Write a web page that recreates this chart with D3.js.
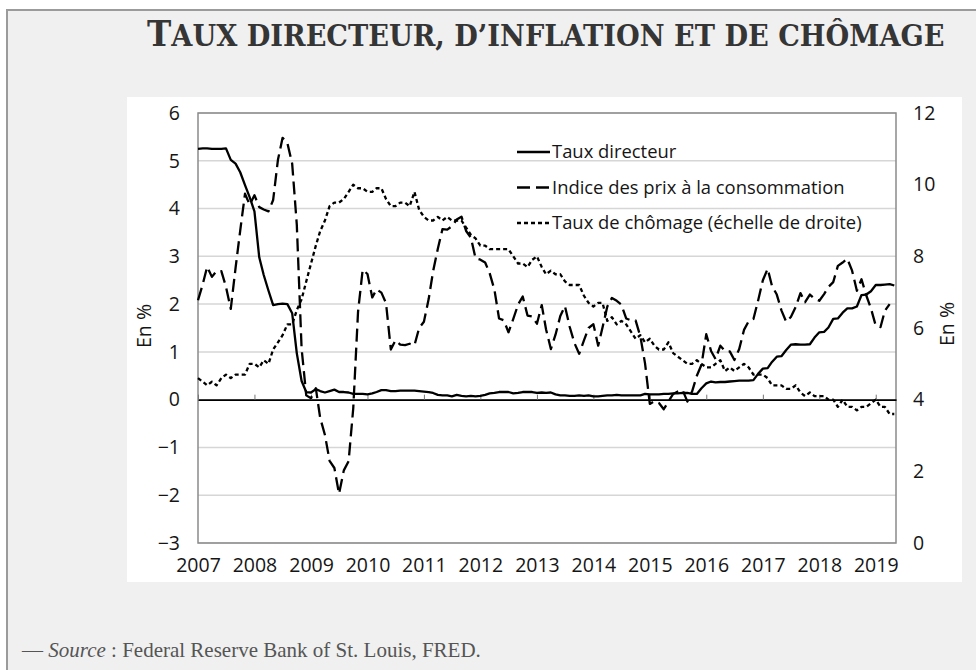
<!DOCTYPE html>
<html lang="fr">
<head>
<meta charset="utf-8">
<script src="https://cdn.jsdelivr.net/npm/d3@7/dist/d3.min.js"></script>
<style>
  html, body { margin: 0; padding: 0; background: #ffffff; }
  svg { display: block; }
  .tick-label { font-family: "Open Sans", "Noto Sans", sans-serif; font-size: 19.5px; fill: #151515; }
  .legend-text { font-family: "Open Sans", "Noto Sans", sans-serif; font-size: 18.4px; fill: #151515; }
</style>
</head>
<body>
<svg id="chart" width="976" height="670"></svg>
<script>
// Monthly series, January 2007 onwards (in %)
const startYear = 2007;

// Effective federal funds rate
const tauxDirecteur = [
  5.25, 5.26, 5.26, 5.25, 5.25, 5.25, 5.26, 5.02, 4.94, 4.76, 4.49, 4.24,
  3.94, 2.98, 2.61, 2.28, 1.98, 2.00, 2.01, 2.00, 1.81, 0.97, 0.39, 0.16,
  0.15, 0.22, 0.18, 0.15, 0.18, 0.21, 0.16, 0.16, 0.15, 0.12, 0.12, 0.12,
  0.11, 0.13, 0.16, 0.20, 0.20, 0.18, 0.18, 0.19, 0.19, 0.19, 0.19, 0.18,
  0.17, 0.16, 0.14, 0.10, 0.09, 0.09, 0.07, 0.10, 0.08, 0.07, 0.08, 0.07,
  0.08, 0.10, 0.13, 0.14, 0.16, 0.16, 0.16, 0.13, 0.14, 0.16, 0.16, 0.16,
  0.14, 0.15, 0.14, 0.15, 0.11, 0.09, 0.09, 0.08, 0.08, 0.09, 0.08, 0.09,
  0.07, 0.07, 0.08, 0.09, 0.09, 0.10, 0.09, 0.09, 0.09, 0.09, 0.09, 0.12,
  0.11, 0.11, 0.11, 0.12, 0.12, 0.13, 0.13, 0.14, 0.14, 0.12, 0.12, 0.24,
  0.34, 0.38, 0.36, 0.37, 0.37, 0.38, 0.39, 0.40, 0.40, 0.40, 0.41, 0.54,
  0.65, 0.66, 0.79, 0.90, 0.91, 1.04, 1.15, 1.16, 1.15, 1.15, 1.16, 1.30,
  1.41, 1.42, 1.51, 1.69, 1.70, 1.82, 1.91, 1.91, 1.95, 2.19, 2.20, 2.27,
  2.40, 2.40, 2.41, 2.42, 2.39
];

// Consumer price index, year-on-year change
const indicePrix = [
  2.08, 2.42, 2.78, 2.57, 2.69, 2.69, 2.36, 1.90, 2.76, 3.54, 4.31, 4.08,
  4.28, 4.03, 3.98, 3.94, 4.18, 5.02, 5.48, 5.37, 4.94, 3.66, 1.07, 0.09,
  0.03, 0.24, -0.38, -0.74, -1.28, -1.43, -1.97, -1.48, -1.29, -0.18, 1.84, 2.72,
  2.63, 2.14, 2.31, 2.24, 2.02, 1.05, 1.24, 1.15, 1.14, 1.17, 1.14, 1.50,
  1.63, 2.11, 2.68, 3.16, 3.57, 3.56, 3.63, 3.77, 3.83, 3.53, 3.39, 2.96,
  2.93, 2.87, 2.65, 2.30, 1.70, 1.66, 1.41, 1.69, 1.99, 2.16, 1.76, 1.74,
  1.59, 1.98, 1.47, 1.06, 1.36, 1.75, 1.96, 1.52, 1.18, 0.96, 1.24, 1.50,
  1.58, 1.13, 1.51, 1.95, 2.13, 2.07, 1.99, 1.70, 1.66, 1.66, 1.32, 0.76,
  -0.09, -0.03, -0.07, -0.20, -0.04, 0.12, 0.17, 0.20, -0.04, 0.17, 0.50, 0.73,
  1.37, 1.02, 0.85, 1.13, 1.02, 1.01, 0.83, 1.06, 1.46, 1.64, 1.69, 2.07,
  2.50, 2.74, 2.38, 2.20, 1.87, 1.63, 1.73, 1.94, 2.23, 2.04, 2.20, 2.11,
  2.07, 2.21, 2.36, 2.46, 2.80, 2.87, 2.95, 2.70, 2.28, 2.52, 2.18, 1.91,
  1.55, 1.52, 1.86, 2.00
];

// Unemployment rate (right-hand scale)
const tauxChomage = [
  4.6, 4.5, 4.4, 4.5, 4.4, 4.6, 4.7, 4.6, 4.7, 4.7, 4.7, 5.0,
  5.0, 4.9, 5.1, 5.0, 5.4, 5.6, 5.8, 6.1, 6.1, 6.5, 6.8, 7.3,
  7.8, 8.3, 8.7, 9.0, 9.4, 9.5, 9.5, 9.6, 9.8, 10.0, 9.9, 9.9,
  9.8, 9.8, 9.9, 9.9, 9.6, 9.4, 9.4, 9.5, 9.5, 9.4, 9.8, 9.3,
  9.1, 9.0, 9.0, 9.1, 9.0, 9.1, 9.0, 9.0, 9.0, 8.8, 8.6, 8.5,
  8.3, 8.3, 8.2, 8.2, 8.2, 8.2, 8.2, 8.0, 7.8, 7.8, 7.7, 7.9,
  8.0, 7.7, 7.5, 7.6, 7.5, 7.5, 7.3, 7.2, 7.2, 7.2, 6.9, 6.7,
  6.6, 6.7, 6.7, 6.2, 6.3, 6.1, 6.2, 6.1, 5.9, 5.7, 5.8, 5.6,
  5.7, 5.5, 5.4, 5.4, 5.6, 5.3, 5.2, 5.1, 5.0, 5.0, 5.1, 5.0,
  4.9, 4.9, 5.0, 5.1, 4.8, 4.9, 4.8, 4.9, 5.0, 4.9, 4.7, 4.7,
  4.7, 4.6, 4.4, 4.4, 4.4, 4.3, 4.3, 4.4, 4.2, 4.1, 4.2, 4.1,
  4.1, 4.1, 4.0, 4.0, 3.8, 4.0, 3.8, 3.8, 3.7, 3.8, 3.8, 3.9,
  4.0, 3.8, 3.8, 3.6, 3.6
];

const yearTicks = [2007, 2008, 2009, 2010, 2011, 2012, 2013, 2014, 2015, 2016, 2017, 2018, 2019];
const leftTicks = [-3, -2, -1, 0, 1, 2, 3, 4, 5, 6];
const rightTicks = [0, 2, 4, 6, 8, 10, 12];

const legendLabels = [
  "Taux directeur",
  "Indice des prix à la consommation",
  "Taux de chômage (échelle de droite)"
];

// Title words: leading capital, then small capitals
const titleLead = "T";
const titleRest = "AUX DIRECTEUR, D’INFLATION ET DE CHÔMAGE";
const axisTitle = "En %";

// ---------------------------------------------------------------
const svg = d3.select("#chart");
const W = 976, H = 670;
const plot = { left: 198, right: 896, top: 113, bottom: 543 };

// Page background and frame
svg.append("rect").attr("x", 0).attr("y", 0).attr("width", W).attr("height", H).attr("fill", "#ffffff");
svg.append("rect").attr("x", 7).attr("y", 10).attr("width", W).attr("height", H)
  .attr("fill", "#f0f0f0").attr("stroke", "#9b9b9b").attr("stroke-width", 2);

// Title, squeezed horizontally to span 147 → 945
const titleG = svg.append("g");
const title = titleG.append("text")
  .attr("x", 0).attr("y", 0)
  .style("font-family", "'DejaVu Serif', 'Liberation Serif', serif")
  .style("font-weight", "bold")
  .attr("fill", "#353535");
title.append("tspan").style("font-size", "36px").text(titleLead);
title.append("tspan").style("font-size", "30px").text(titleRest);
const titleWidth = title.node().getComputedTextLength();
titleG.attr("transform", `translate(147,46) scale(${798 / titleWidth},1)`);

// White chart panel
svg.append("rect").attr("x", 127).attr("y", 97).attr("width", 835).attr("height", 485).attr("fill", "#ffffff");

// Scales
const monthDate = i => new Date(startYear, i, 1);
const x = d3.scaleTime()
  .domain([new Date(2007, 0, 1), new Date(2019, 4, 12)])
  .range([plot.left, plot.right]);
const yL = d3.scaleLinear().domain([-3, 6]).range([plot.bottom, plot.top]);
const yR = d3.scaleLinear().domain([0, 12]).range([plot.bottom, plot.top]);

// Horizontal gridlines
svg.append("g").selectAll("line").data(leftTicks).join("line")
  .attr("x1", plot.left).attr("x2", plot.right)
  .attr("y1", d => yL(d)).attr("y2", d => yL(d))
  .attr("stroke", "#d6d6d6").attr("stroke-width", 1.5);

// Plot frame
svg.append("rect")
  .attr("x", plot.left).attr("y", plot.top)
  .attr("width", plot.right - plot.left).attr("height", plot.bottom - plot.top)
  .attr("fill", "none").attr("stroke", "#8a8a8a").attr("stroke-width", 1.5);

// Zero line with year tick marks
const zeroAxis = svg.append("g")
  .attr("transform", `translate(0,${yL(0)})`)
  .call(d3.axisTop(x)
    .tickValues(yearTicks.map(y => new Date(y, 0, 1)))
    .tickSize(5).tickSizeOuter(0).tickFormat(""));
zeroAxis.select(".domain").attr("stroke", "#000").attr("stroke-width", 1.6);
zeroAxis.selectAll(".tick line").attr("stroke", "#777").attr("stroke-width", 1);

// Year labels under the plot
const xAxis = svg.append("g")
  .attr("transform", `translate(0,${plot.bottom})`)
  .call(d3.axisBottom(x)
    .tickValues(yearTicks.map(y => new Date(y, 0, 1)))
    .tickSize(0).tickPadding(15).tickFormat(d3.timeFormat("%Y")));
xAxis.select(".domain").remove();
xAxis.attr("font-size", null).attr("font-family", null);
xAxis.selectAll("text").attr("class", "tick-label");

// Left axis
const leftAxis = svg.append("g")
  .attr("transform", `translate(${plot.left},0)`)
  .call(d3.axisLeft(yL).tickValues(leftTicks).tickSize(0).tickPadding(18)
    .tickFormat(d => d < 0 ? "\u2212" + Math.abs(d) : String(d)));
leftAxis.select(".domain").remove();
leftAxis.attr("font-size", null).attr("font-family", null);
leftAxis.selectAll("text").attr("class", "tick-label");

// Right axis
const rightAxis = svg.append("g")
  .attr("transform", `translate(${plot.right},0)`)
  .call(d3.axisRight(yR).tickValues(rightTicks).tickSize(0).tickPadding(17));
rightAxis.select(".domain").remove();
rightAxis.attr("font-size", null).attr("font-family", null);
rightAxis.selectAll("text").attr("class", "tick-label");

// Axis titles
svg.append("text").attr("class", "tick-label")
  .attr("transform", "translate(151,326) rotate(-90)")
  .attr("text-anchor", "middle").text(axisTitle);
svg.append("text").attr("class", "tick-label")
  .attr("transform", "translate(954,324) rotate(-90)")
  .attr("text-anchor", "middle").text(axisTitle);

// Series
const lineL = d3.line().x((d, i) => x(monthDate(i))).y(d => yL(d));
const lineR = d3.line().x((d, i) => x(monthDate(i))).y(d => yR(d));

const styles = [
  { dash: null, width: 2.3 },
  { dash: "13,6", width: 2.3 },
  { dash: "4,3", width: 2.3 }
];

const seriesG = svg.append("g").attr("fill", "none").attr("stroke", "#000")
  .attr("stroke-linejoin", "round");

seriesG.append("path").datum(tauxChomage)
  .attr("d", lineR).attr("stroke-width", styles[2].width).attr("stroke-dasharray", styles[2].dash);
seriesG.append("path").datum(indicePrix)
  .attr("d", lineL).attr("stroke-width", styles[1].width).attr("stroke-dasharray", styles[1].dash);
seriesG.append("path").datum(tauxDirecteur)
  .attr("d", lineL).attr("stroke-width", styles[0].width);

// Legend
const legend = svg.append("g");
const legendRows = legend.selectAll("g").data(legendLabels).join("g")
  .attr("transform", (d, i) => `translate(517,${152 + i * 35.5})`);
legendRows.append("line")
  .attr("x1", 0).attr("x2", 33).attr("y1", 0).attr("y2", 0)
  .attr("stroke", "#000")
  .attr("stroke-width", (d, i) => styles[i].width)
  .attr("stroke-dasharray", (d, i) => styles[i].dash);
legendRows.append("text").attr("class", "legend-text")
  .attr("x", 35).attr("y", 0).attr("dy", "0.35em")
  .text(d => d);

// Source line
const src = svg.append("text")
  .attr("x", 22).attr("y", 657)
  .style("font-family", "'Liberation Serif', 'DejaVu Serif', serif")
  .style("font-size", "21px")
  .attr("fill", "#555");
src.append("tspan").text("— ");
src.append("tspan").style("font-style", "italic").text("Source");
src.append("tspan").text(" : Federal Reserve Bank of St. Louis, FRED.");
</script>
</body>
</html>
